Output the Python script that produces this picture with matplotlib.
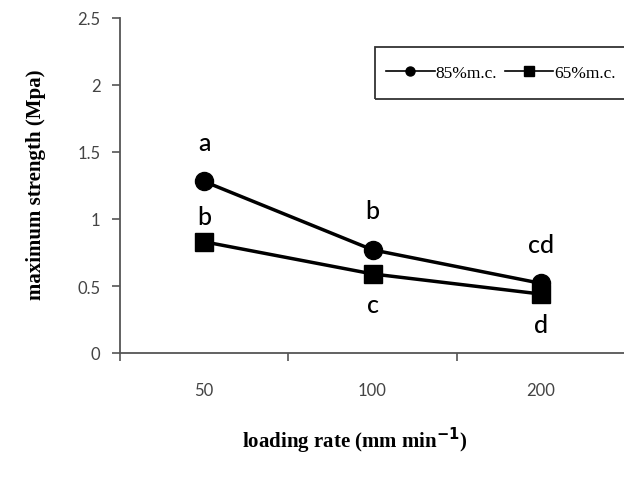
import matplotlib
matplotlib.use("Agg")
import matplotlib.pyplot as plt
from matplotlib.patches import Rectangle

categories = ["50", "100", "200"]
mc85 = [1.28, 0.77, 0.52]
mc65 = [0.83, 0.59, 0.44]
letters85 = ["a", "b", "cd"]
letters65 = ["b", "c", "d"]
yticks = [0, 0.5, 1, 1.5, 2, 2.5]
ytick_labels = ["0", "0.5", "1", "1.5", "2", "2.5"]

W, H = 624, 481
fig = plt.figure(figsize=(W / 100, H / 100), dpi=100)
left, right = 120, 625
bottom, top = 354, 19
ax = fig.add_axes([left / W, 1 - bottom / H, (right - left) / W, (bottom - top) / H])

x = list(range(1, len(categories) + 1))
l1, = ax.plot(x, mc85, color="black", lw=2.5, marker="o", markersize=13, label="85%m.c.")
l2, = ax.plot(x, mc65, color="black", lw=2.5, marker="s", markersize=13, label="65%m.c.")

ax.set_xlim(0.5, 3.5)
ax.set_ylim(0, 2.5)
ax.set_yticks(yticks)
ax.set_yticklabels(ytick_labels)
ax.set_xticks([1, 2, 3])
ax.set_xticklabels(categories)
ax.set_xticks([0.5, 1.5, 2.5, 3.5], minor=True)
ax.tick_params(axis="x", which="major", length=0, pad=21, labelsize=12, labelcolor="#444444")
ax.tick_params(axis="x", which="minor", direction="out", length=6, width=1.2, color="#555555")
ax.tick_params(axis="y", direction="out", length=6, width=1.2, color="#555555",
               labelsize=12, labelcolor="#444444", pad=8)
for lab in ax.get_xticklabels() + ax.get_yticklabels():
    lab.set_family("Lato")

for s in ["top", "right"]:
    ax.spines[s].set_visible(False)
for s in ["left", "bottom"]:
    ax.spines[s].set_color("#555555")
    ax.spines[s].set_linewidth(1.3)

# significance letters
for xi, yi, t in zip(x, mc85, letters85):
    ax.annotate(t, (xi, yi), xytext=(0, 20), textcoords="offset points",
                ha="center", va="bottom", fontsize=18, family="Lato", fontweight="medium")
off65 = [1, -1, -1]
for xi, yi, t, o in zip(x, mc65, letters65, off65):
    if o > 0:
        ax.annotate(t, (xi, yi), xytext=(0, 10), textcoords="offset points",
                    ha="center", va="bottom", fontsize=18, family="Lato", fontweight="medium")
    else:
        ax.annotate(t, (xi, yi), xytext=(0, -14), textcoords="offset points",
                    ha="center", va="top", fontsize=18, family="Lato", fontweight="medium")

# legend frame (extends past right edge)
fig.patches.append(Rectangle((375 / W, 1 - 100 / H), 260 / W, 52 / H,
                             transform=fig.transFigure, fill=False,
                             edgecolor="#333333", linewidth=1.3))
leg = fig.legend(handles=[l1, l2], loc="center left",
                 bbox_to_anchor=(386 / W, 1 - 74 / H), ncol=2,
                 prop={"family": "Liberation Serif", "size": 12.5},
                 frameon=False, handlelength=2.8, markerscale=0.5,
                 columnspacing=0.45, handletextpad=0.05, borderpad=0,
                 borderaxespad=0)
for ln in leg.get_lines():
    ln.set_linewidth(1.2)

fig.text(36 / W, 1 - 185 / H, "maximum strength (Mpa)", rotation=90, ha="center", va="center",
         family="Liberation Serif", fontweight="bold", fontsize=15)
fig.text(355 / W, 1 - 441 / H, "loading rate (mm min$^{\\mathbf{-1}}$)", ha="center", va="center",
         family="Liberation Serif", fontweight="bold", fontsize=15)

fig.savefig("out.png", dpi=100)
